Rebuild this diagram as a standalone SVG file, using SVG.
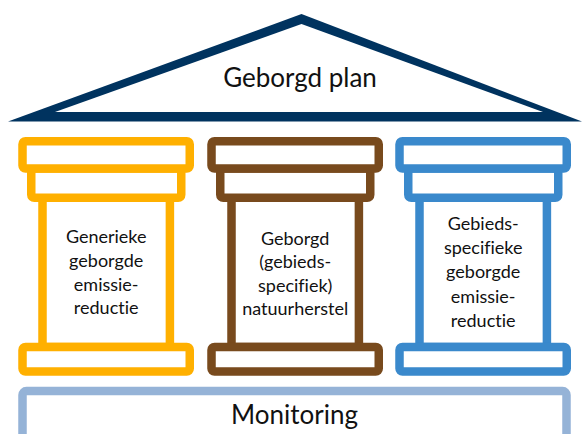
<svg xmlns="http://www.w3.org/2000/svg" width="583" height="434" viewBox="0 0 583 434">
<style>
.frame{fill:#fff;stroke-width:8.5;stroke-linejoin:round}
.orange{stroke:#FFB000}
.brown{stroke:#784A1D}
.blue{stroke:#3A89CC}
.mon{stroke:#95B3D7}
.t{font-family:Lato,"Liberation Sans",sans-serif;fill:#111;text-anchor:middle;font-variant-ligatures:none}
.big{font-size:26px}
.small{font-size:18px}
</style>
<rect width="583" height="434" fill="#fff"/>
<g id="roof">
<polygon points="8,121.5 301.5,14 582,121.5" fill="#00335F"/>
<polygon points="55,112 301.5,24 543,112" fill="#fff"/>
<text class="t big" x="300" y="87">Geborgd plan</text>
</g>
<g id="pillar-generiek">
<rect class="frame orange" x="42.5" y="197.75" width="127.4" height="149.25"/>
<rect class="frame orange" x="31.25" y="168.5" width="150" height="29.25" rx="3"/>
<rect class="frame orange" x="22.5" y="141.25" width="167.25" height="27.25" rx="3"/>
<rect class="frame orange" x="22.5" y="347" width="167.25" height="24.5" rx="3"/>
<text class="t small" x="106.2" y="243">Generieke</text>
<text class="t small" x="106.2" y="266.8">geborgde</text>
<text class="t small" x="106.2" y="290.6">emissie-</text>
<text class="t small" x="106.2" y="314.4">reductie</text>
</g>
<g id="pillar-natuur" transform="translate(189,0)">
<rect class="frame brown" x="42.5" y="197.75" width="127.4" height="149.25"/>
<rect class="frame brown" x="31.25" y="168.5" width="150" height="29.25" rx="3"/>
<rect class="frame brown" x="22.5" y="141.25" width="167.25" height="27.25" rx="3"/>
<rect class="frame brown" x="22.5" y="347" width="167.25" height="24.5" rx="3"/>
<text class="t small" x="106.2" y="245">Geborgd</text>
<text class="t small" x="106.2" y="268.3">(gebieds-</text>
<text class="t small" x="106.2" y="291.6">specifiek)</text>
<text class="t small" x="106.2" y="315">natuurherstel</text>
</g>
<g id="pillar-gebiedsspecifiek" transform="translate(377,0)">
<rect class="frame blue" x="42.5" y="197.75" width="127.4" height="149.25"/>
<rect class="frame blue" x="31.25" y="168.5" width="150" height="29.25" rx="3"/>
<rect class="frame blue" x="22.5" y="141.25" width="167.25" height="27.25" rx="3"/>
<rect class="frame blue" x="22.5" y="347" width="167.25" height="24.5" rx="3"/>
<text class="t small" x="106.2" y="230">Gebieds-</text>
<text class="t small" x="106.2" y="254.2">specifieke</text>
<text class="t small" x="106.2" y="278.4">geborgde</text>
<text class="t small" x="106.2" y="302.6">emissie-</text>
<text class="t small" x="106.2" y="326.8">reductie</text>
</g>
<g id="monitoring">
<rect class="frame mon" x="22.5" y="391" width="544" height="60" rx="4"/>
<text class="t big" x="294.5" y="424">Monitoring</text>
</g>
</svg>
